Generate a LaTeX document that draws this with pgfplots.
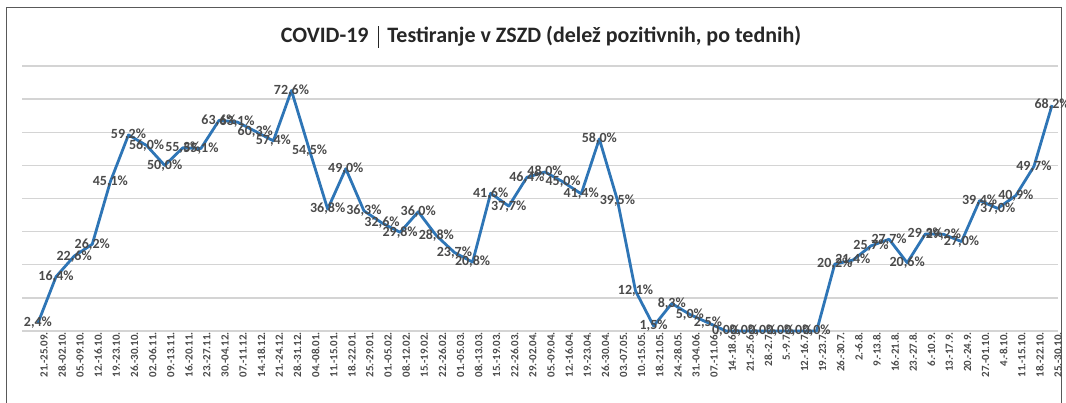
\documentclass[border=0pt]{standalone}
\usepackage{fontspec}
\setmainfont{Carlito}
\usepackage{pgfplots}
\pgfplotsset{compat=1.18}
\definecolor{lineblue}{HTML}{2E75B6}
\definecolor{gridgray}{HTML}{D4D4D4}
\definecolor{labgray}{HTML}{4A4A4A}
\pgfplotstableread{
x y
0 2.4
1 16.4
2 22.6
3 26.2
4 45.1
5 59.2
6 56.0
7 50.0
8 55.3
9 55.1
10 63.6
11 63.1
12 60.3
13 57.4
14 72.6
15 54.5
16 36.8
17 49.0
18 36.3
19 32.6
20 29.8
21 36.0
22 28.8
23 23.7
24 20.8
25 41.6
26 37.7
27 46.4
28 48.0
29 45.0
30 41.4
31 58.0
32 39.5
33 12.1
34 1.5
35 8.3
36 5.0
37 2.5
38 0.0
39 0.0
40 0.0
41 0.0
42 0.0
43 0.0
44 20.2
45 21.4
46 25.7
47 27.7
48 20.6
49 29.3
50 29.2
51 27.0
52 39.4
53 37.0
54 40.9
55 49.7
56 68.2
}\datatable
\begin{document}
\begin{tikzpicture}[x=1pt,y=1pt]
\path[use as bounding box] (0,0) rectangle (1066,-403);
\draw[black!65, line width=1pt] (6,-420) -- (6,-8) -- (1061,-8) -- (1061,-420);
\node[font=\fontsize{22}{24}\selectfont\bfseries, text=black!85] at (541,-37) {COVID-19\hspace{9pt}\rule[-5pt]{0.9pt}{22pt}\hspace{9pt}Testiranje v ZSZD (delež pozitivnih, po tednih)};
\begin{axis}[
  at={(22pt,-331pt)}, anchor=south west,
  scale only axis, width=1036pt, height=265pt,
  xmin=-0.88, xmax=56.33, ymin=0, ymax=80,
  ytick={0,10,...,80}, yticklabels={},
  ymajorgrids, major grid style={gridgray, line width=1.4pt},
  axis line style={draw=none}, tick style={draw=none},
  xtick={0,...,56},
  xticklabels={{21.-25.09.},{28.-02.10.},{05.-09.10.},{12.-16.10.},{19.-23.10.},{26.-30.10.},{02.-06.11.},{09.-13.11.},{16.-20.11.},{23.-27.11.},{30.-04.12.},{07.-11.12.},{14.-18.12.},{21.-24.12.},{28.-31.12.},{04.-08.01.},{11.-15.01.},{18.-22.01.},{25.-29.01.},{01.-05.02.},{08.-12.02.},{15.-19.02.},{22.-26.02.},{01.-05.03.},{08.-13.03.},{15.-19.03.},{22.-26.03.},{29.-02.04.},{05.-09.04.},{12.-16.04.},{19.-23.04.},{26.-30.04.},{03.-07.05.},{10.-15.05.},{18.-21.05.},{24.-28.05.},{31.-04.06.},{07.-11.06.},{14.-18.6.},{21.-25.6.},{28.-2.7.},{5.-9.7.},{12.-16.7.},{19.-23.7.},{26.-30.7.},{2.-6.8.},{9.-13.8.},{16.-21.8.},{23.-27.8.},{6.-10.9.},{13.-17.9.},{20.-24.9.},{27.-01.10.},{4.-8.10.},{11.-15.10.},{18.-22.10.},{25.-30.10.}},
  x tick label style={rotate=90, anchor=east, font=\fontsize{11}{12}\selectfont\bfseries, text=labgray, inner sep=1pt, yshift=-6pt},
  clip=false,
  nodes near coords={\pgfmathprintnumber[fixed,fixed zerofill,precision=1,use comma,assume math mode=true]{\pgfplotspointmeta}\%},
  point meta=y,
  every node near coord/.append style={anchor=center, font=\fontsize{14}{15}\selectfont\bfseries, text=labgray, inner sep=0pt},
]
\addplot[lineblue, line width=2.8pt, line join=round, mark=none] table[x=x,y=y] {\datatable};
\end{axis}
\end{tikzpicture}
\end{document}
